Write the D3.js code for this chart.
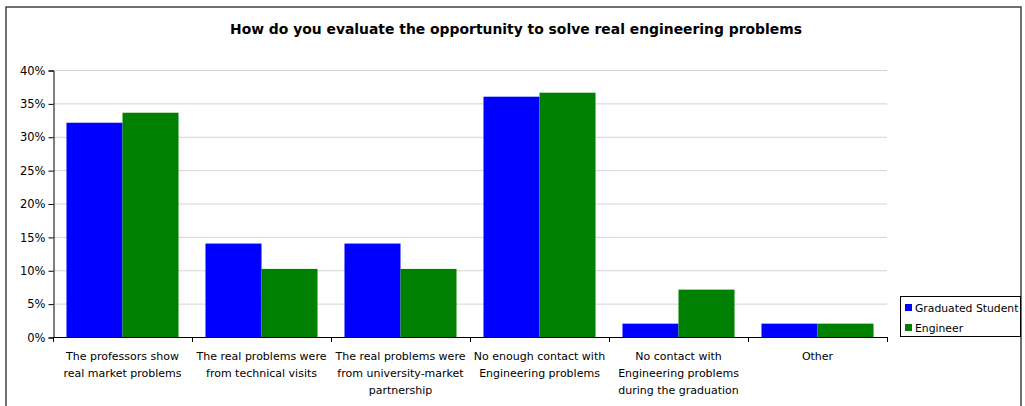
<!DOCTYPE html>
<html>
<head>
<meta charset="utf-8">
<script src="https://cdn.jsdelivr.net/npm/d3@7"></script>
<style>
  html, body { margin: 0; padding: 0; background: #fff; }
  svg { display: block; }
  text { font-family: "DejaVu Sans", Verdana, sans-serif; fill: #000; }
</style>
</head>
<body>
<svg id="chart" width="1025" height="406"></svg>
<script>
// Survey answers, share of respondents per group (%)
const categories = [
  "The professors show\nreal market problems",
  "The real problems were\nfrom technical visits",
  "The real problems were\nfrom university-market\npartnership",
  "No enough contact with\nEngineering problems",
  "No contact with\nEngineering problems\nduring the graduation",
  "Other"
];
const seriesNames = ["Graduated Student", "Engineer"];
const graduatedStudent = [32.1, 14.0, 14.0, 36.0, 2.0, 2.0];
const engineer = [33.6, 10.2, 10.2, 36.6, 7.1, 2.0];
const yTicks = [0, 5, 10, 15, 20, 25, 30, 35, 40];
const colors = ["#0000ff", "#008000"];
const title = "How do you evaluate the opportunity to solve real engineering problems";

const svg = d3.select("#chart");

// outer frame
svg.append("rect")
  .attr("x", 6).attr("y", 7).attr("width", 1015).attr("height", 420)
  .attr("fill", "none").attr("stroke", "#404040").attr("stroke-width", 1.5);

const plot = { left: 53, right: 887, top: 70, bottom: 337 };

const x0 = d3.scaleBand().domain(categories)
  .range([plot.left, plot.right]).paddingInner(0.194).paddingOuter(0.097);
const x1 = d3.scaleBand().domain(seriesNames).range([0, x0.bandwidth()]);
const y = d3.scaleLinear().domain([0, 40]).range([plot.bottom, plot.top]);

// title
svg.append("text")
  .attr("x", 516).attr("y", 34)
  .attr("text-anchor", "middle")
  .style("font-size", "13.9px").style("font-weight", "bold")
  .text(title);

// gridlines
svg.append("g").selectAll("line").data(yTicks.filter(t => t > 0)).join("line")
  .attr("x1", plot.left).attr("x2", plot.right)
  .attr("y1", d => y(d) + 0.5).attr("y2", d => y(d) + 0.5)
  .attr("stroke", "#d4d4d4").attr("stroke-width", 1);

// bars
const groups = svg.append("g").selectAll("g").data(categories).join("g")
  .attr("transform", d => `translate(${x0(d)},0)`);
groups.selectAll("rect")
  .data((d, i) => [graduatedStudent[i], engineer[i]].map((v, j) => ({ v, s: seriesNames[j], c: colors[j] })))
  .join("rect")
  .attr("x", d => x1(d.s))
  .attr("width", x1.bandwidth())
  .attr("y", d => y(d.v))
  .attr("height", d => y(0) - y(d.v))
  .attr("fill", d => d.c);

// y axis
const yAxis = d3.axisLeft(y).tickValues(yTicks).tickSize(5).tickFormat(d => d + "%");
const gy = svg.append("g").attr("transform", `translate(${plot.left + 0.5},0.5)`).call(yAxis);
gy.select(".domain").attr("stroke", "#000");
gy.selectAll(".tick line").attr("stroke", "#000");
gy.selectAll(".tick text").attr("x", -8)
  .style("font-size", "11.5px").style("font-family", "'DejaVu Sans', sans-serif");

// x axis line and boundary ticks
const gx = svg.append("g");
gx.append("line")
  .attr("x1", plot.left).attr("x2", plot.right + 0.5)
  .attr("y1", plot.bottom + 0.5).attr("y2", plot.bottom + 0.5)
  .attr("stroke", "#000");
const step = x0.step();
const bounds = d3.range(categories.length + 1).map(i => plot.left + i * step);
gx.selectAll("line.tk").data(bounds).join("line").attr("class", "tk")
  .attr("x1", d => Math.round(d) + 0.5).attr("x2", d => Math.round(d) + 0.5)
  .attr("y1", plot.bottom).attr("y2", plot.bottom + 5)
  .attr("stroke", "#000");

// category labels
gx.selectAll("text.cat").data(categories).join("text").attr("class", "cat")
  .attr("text-anchor", "middle")
  .style("font-size", "11px")
  .attr("transform", d => `translate(${x0(d) + x0.bandwidth() / 2},${plot.bottom + 23})`)
  .each(function (d) {
    d3.select(this).selectAll("tspan").data(d.split("\n")).join("tspan")
      .attr("x", 0).attr("dy", (l, i) => i === 0 ? 0 : 16.8).text(l => l);
  });

// legend
const legend = svg.append("g");
legend.append("rect")
  .attr("x", 900.5).attr("y", 296.5).attr("width", 120).attr("height", 40)
  .attr("fill", "#fff").attr("stroke", "#000");
seriesNames.forEach((name, i) => {
  legend.append("rect")
    .attr("x", 905).attr("y", 304 + i * 20).attr("width", 7).attr("height", 7)
    .attr("fill", colors[i]);
  legend.append("text")
    .attr("x", 915).attr("y", 312 + i * 20)
    .style("font-size", "10.8px")
    .text(name);
});
</script>
</body>
</html>
